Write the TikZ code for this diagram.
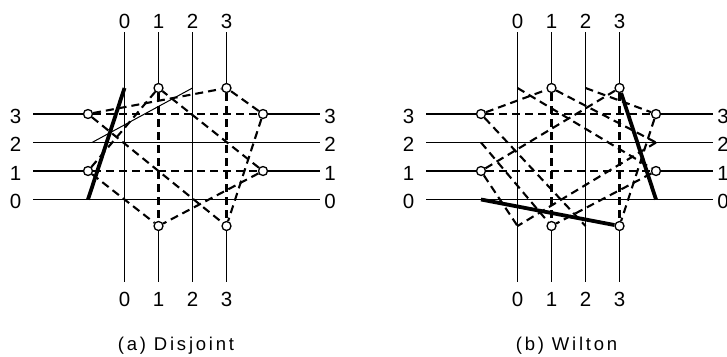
\documentclass[tikz,border=0pt]{standalone}
\usepackage{fontspec}
\setmainfont{Liberation Sans}
\begin{document}
\begin{tikzpicture}[x=1pt,y=-1pt,
  track/.style={line width=1.4pt},
  conn/.style={line width=2.1pt, dash pattern=on 8pt off 5pt},
  hilite/.style={line width=3.8pt},
  thinconn/.style={line width=1.0pt},
  pin/.style={circle, draw, fill=white, line width=1.3pt, inner sep=0pt, minimum size=9pt},
  lbl/.style={font=\fontsize{20.5}{20.5}\selectfont, inner sep=0pt},
  captext/.style={font=\fontsize{18.5}{18.5}\selectfont\addfontfeature{LetterSpace=15}, inner sep=0pt, anchor=base}]
\useasboundingbox (0,0) rectangle (727,356);
\foreach \p/\s in {a/0,b/393}{
\begin{scope}[xshift=\s pt]
  \foreach \i/\y in {0/199.5,1/171,2/142.5,3/114}{
    \coordinate (\p-Lo\i) at (33,\y);
    \coordinate (\p-L\i) at (88,\y);
    \coordinate (\p-R\i) at (263,\y);
    \coordinate (\p-Ro\i) at (320,\y);
    \node[lbl] (\p-ll\i) at (15.5,\y+2) {\i};
    \node[lbl] (\p-rl\i) at (330,\y+2) {\i};
  }
  \foreach \j/\x in {0/124.5,1/158.5,2/192.5,3/226.5}{
    \coordinate (\p-To\j) at (\x,32);
    \coordinate (\p-T\j) at (\x,88);
    \coordinate (\p-B\j) at (\x,226);
    \coordinate (\p-Bo\j) at (\x,282);
    \node[lbl] (\p-tl\j) at (\x,21) {\j};
    \node[lbl] (\p-bl\j) at (\x,299) {\j};
  }
  \foreach \i in {1,3}{
    \node[pin] (\p-pL\i) at (\p-L\i) {};
    \node[pin] (\p-pR\i) at (\p-R\i) {};
    \node[pin] (\p-pT\i) at (\p-T\i) {};
    \node[pin] (\p-pB\i) at (\p-B\i) {};
  }
  \foreach \i in {0,2}{
    \draw[track] (\p-Lo\i) -- (\p-Ro\i);
    \draw[track] (\p-To\i) -- (\p-Bo\i);
  }
  \foreach \i in {1,3}{
    \draw[track] (\p-Lo\i) -- (\p-pL\i);
    \draw[conn] (\p-pL\i) -- (\p-pR\i);
    \draw[track] (\p-pR\i) -- (\p-Ro\i);
    \draw[track] (\p-To\i) -- (\p-pT\i);
    \draw[conn] (\p-pT\i) -- (\p-pB\i);
    \draw[track] (\p-pB\i) -- (\p-Bo\i);
  }
\end{scope}
}
% (a) Disjoint
\foreach \t in {1,3}{
  \draw[conn] (a-pL\t) -- (a-pT\t);
  \draw[conn] (a-pL\t) -- (a-pB\t);
  \draw[conn] (a-pR\t) -- (a-pT\t);
  \draw[conn] (a-pR\t) -- (a-pB\t);
}
\draw[thinconn] ([xshift=4pt]a-L2) -- (a-T2);
\draw[hilite] (a-L0) -- (a-T0);
% (b) Wilton
\draw[conn] (b-pL1) -- (b-pT3);
\draw[conn] (b-pL3) -- (b-pT1);
\draw[conn] (b-pL1) -- (b-B0);
\draw[conn] (b-pL3) -- (b-B2);
\draw[conn] (b-L2) -- (b-pB1);
\draw[conn] (b-T0) -- (b-pR1);
\draw[conn] (b-T2) -- (b-pR3);
\draw[conn] (b-pT1) -- (b-R2);
\draw[conn] (b-pR1) -- (b-pB1);
\draw[conn] (b-pR3) -- (b-pB3);
\draw[conn] (b-R2) -- (b-B0);
\draw[hilite] (b-L0) -- (b-pB3);
\draw[hilite] (b-pT3) -- (b-R0);
% captions
\node[captext] (capa) at (176,350) {(a) Disjoint};
\node[captext] (capb) at (566.5,350) {(b) Wilton};
\end{tikzpicture}
\end{document}
